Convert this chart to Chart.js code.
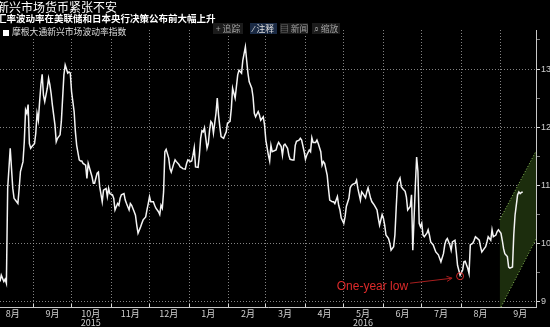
<!DOCTYPE html>
<html lang="zh-CN">
<head>
<meta charset="utf-8">
<title>新兴市场货币紧张不安</title>
<script src="https://cdn.jsdelivr.net/npm/chart.js@4.4.1/dist/chart.umd.min.js"></script>
<style>
  html, body { margin: 0; padding: 0; background: #000; }
  #wrap { position: relative; width: 550px; height: 327px; overflow: hidden; background: #000;
          font-family: "Noto Sans CJK SC", sans-serif; }
  #wrap canvas { position: absolute; left: 0; top: 0; }
  .title    { position: absolute; left: -3px; top: 0; font-size: 12px; line-height: 14px; color: #fff; white-space: nowrap; }
  .subtitle { position: absolute; left: -3px; top: 13px; font-size: 9.5px; line-height: 11px; font-weight: bold; color: #fff; white-space: nowrap; }
  .legend   { position: absolute; left: 0; top: 25px; height: 14px; padding: 0 4px 0 3px; background: #000;
              color: #ddd; font-size: 8.8px; line-height: 14px; white-space: nowrap; }
  .legend i { display: inline-block; width: 6px; height: 6px; background: #fff; margin-right: 3px; vertical-align: -0.5px; }
  .btn      { position: absolute; top: 23px; height: 11px; line-height: 11px; font-size: 8.8px; color: #a0a0a0;
              background: #1b1b1b; text-align: center; white-space: nowrap; }
  .btn.on   { background: #1a2a44; color: #dcdcdc; }
</style>
</head>
<body>
<div id="wrap">
  <canvas id="volChart" width="550" height="327"></canvas>
  <div class="title">新兴市场货币紧张不安</div>
  <div class="subtitle">汇率波动率在美联储和日本央行决策公布前大幅上升</div>
  <div class="legend"><i></i>摩根大通新兴市场波动率指数</div>
  <div class="btn" style="left:213px;width:30px">+ 追踪</div>
  <div class="btn on" style="left:250px;width:27px">⁄ 注释</div>
  <div class="btn" style="left:280px;width:28px">▤ 新闻</div>
  <div class="btn" style="left:312px;width:28px">⌕ 缩放</div>
</div>
<script>
// ── Data ──────────────────────────────────────────────────────
// days counted from START; index values
const START = Date.UTC(2015, 7, 6);

const days = [
  0,1,3,4,5,6,8,10,11,12,14,15,16,18,19,20,21,22,23,24,25,
  27,28,29,30,31,32,33,34,35,37,38,39,40,41,43,44,45,47,48,49,50,51,53,54,55,56,
  58,59,60,62,63,64,65,67,68,69,72,73,74,76,77,78,80,81,83,84,85,86,88,89,90,
  92,93,94,95,97,98,99,101,102,103,105,106,107,108,110,111,112,114,115,116,117,118,120,121,122,124,125,126,127,
  128,129,130,132,133,134,136,137,138,140,141,142,143,145,146,147,149,150,151,152,153,155,156,157,158,159,160,
  162,163,164,165,166,167,169,170,171,172,173,175,176,177,178,180,181,182,184,185,186,187,189,190,192,193,194,195,
  197,198,199,200,202,203,204,206,207,208,210,211,212,213,216,217,218,220,221,222,223,225,226,227,229,230,231,232,
  234,235,236,238,239,240,242,243,244,245,247,248,249,251,252,253,254,256,257,258,260,261,262,264,265,266,267,
  269,270,271,273,274,275,276,278,279,280,282,283,284,286,287,288,290,291,292,293,295,296,297,299,300,301,302,304,305,306,
  308,309,310,311,313,314,315,317,318,319,321,322,323,325,326,327,328,329,330,331,332,334,335,336,337,339,340,341,343,344,345,
  347,348,349,350,352,353,354,356,357,358,360,362,363,364,366,367,368,370,371,372,373,375,376,377,
  379,380,381,382,384,385,386,388,389,390,392,393,394,395,397,398,399,401,402,403,405,406,407,408,409
];

const vol = [
  9.35,9.46,9.35,9.39,9.32,10.95,11.64,10.95,10.78,10.75,10.69,10.95,11.24,11.41,11.75,12.30,12.24,12.39,11.72,11.64,11.67,
  11.72,11.9,12.24,12.12,12.44,12.73,12.91,12.55,12.44,12.67,12.84,12.73,12.58,12.38,12.04,11.75,11.81,11.87,12.1,12.5,12.9,13.07,12.93,12.95,12.93,12.61,
  12.27,11.92,11.69,11.44,11.42,11.42,11.38,11.35,11.12,11.38,11.15,11.04,11.04,11.21,11.23,10.98,10.72,10.92,10.95,10.81,10.95,10.86,10.84,10.78,10.58,
  10.69,10.66,10.78,10.84,10.86,10.75,10.69,10.58,10.69,10.66,10.55,10.49,10.32,10.18,10.29,10.35,10.41,10.46,10.58,10.69,10.81,10.72,10.72,10.66,10.61,10.55,10.5,10.66,10.61,
  10.89,11.58,11.62,11.47,11.29,11.23,11.38,11.44,11.41,11.36,11.32,11.31,11.29,11.28,11.38,11.44,11.41,11.42,11.52,11.65,11.32,11.31,11.52,11.81,11.94,11.92,11.99,
  11.64,11.72,11.95,12.1,12.07,11.9,12.24,12.5,12.21,12.01,11.84,11.81,11.87,11.92,12.07,12.1,12.32,12.67,12.5,12.7,12.9,12.98,12.93,13.15,13.38,13.15,12.93,12.78,
  12.67,12.52,12.24,12.18,12.27,12.21,12.12,12.18,12.04,11.78,11.52,11.42,11.69,11.58,11.61,11.69,11.74,11.67,11.52,11.69,11.71,11.64,11.52,11.45,11.44,11.44,11.69,11.76,
  11.78,11.81,11.78,11.58,11.45,11.52,11.61,11.58,11.82,11.74,11.74,11.78,11.72,11.58,11.35,11.41,11.38,11.18,10.95,10.75,10.72,10.72,10.69,10.81,10.66,10.58,10.44,
  10.35,10.46,10.64,10.78,10.96,11.0,11.02,11.04,11.09,10.95,10.75,10.89,10.86,10.79,10.89,10.96,10.78,10.72,10.69,10.66,10.58,10.44,10.32,10.5,10.44,10.32,10.15,10.09,10.01,9.89,
  9.95,10.15,10.61,11.04,11.13,10.98,10.95,10.9,10.8,10.58,10.64,10.84,9.89,11.0,11.49,11.24,10.35,10.29,10.35,10.15,10.12,10.18,10.24,10.15,10.03,9.98,9.92,9.86,9.81,9.75,9.69,
  9.83,9.98,10.06,10.09,9.98,9.89,10.03,10.06,9.86,9.63,9.46,9.55,9.69,9.70,9.58,9.49,9.98,10.01,10.06,10.12,10.1,10.06,9.95,9.86,
  9.92,9.95,10.03,10.12,10.06,10.24,10.12,10.15,10.21,10.24,10.18,10.06,9.92,9.83,9.78,9.6,9.58,9.6,10.15,10.49,10.84,10.89,10.86,10.88,10.89
];

// green channel drawn over the last weeks
const channelDays  = [391, 419.4];
const channelUpper = [10.41, 11.59];
const channelLower = [8.87, 10.08];

// axis labels
const monthLabels = ['8月','9月',['10月','2015'],'11月','12月','1月','2月','3月','4月',['5月','2016'],'6月','7月','8月','9月'];
const yTicks = [9, 10, 11, 12, 13];
const X_MAX = 419.4, Y_MIN = 8.914, Y_MAX = 13.67;

// ── Ticks built from calendar ─────────────────────────────────
const dayOf = (y, m, d) => (Date.UTC(y, m, d) - START) / 86400000;
const monthStarts = [], labelAt = new Map();
monthLabels.forEach((lab, i) => {
  const s = dayOf(2015, 7 + i, 1);
  if (s >= 0 && s <= X_MAX) monthStarts.push(s);
  labelAt.set(dayOf(2015, 7 + i, 16), lab);
});
const nextStart = dayOf(2015, 7 + monthLabels.length, 1);
if (nextStart <= X_MAX) monthStarts.push(nextStart);
const xTickVals = [...monthStarts, ...labelAt.keys()].sort((a, b) => a - b);
const isStart = v => monthStarts.includes(v);

const yTickVals = [];
yTicks.forEach(v => { yTickVals.push(v); if (v + 0.5 < Y_MAX) yTickVals.push(v + 0.5); });

// one-year low: lowest point over the last year
let lowIdx = 0;
days.forEach((d, i) => { if (d >= 300 && (days[lowIdx] < 300 || vol[i] < vol[lowIdx])) lowIdx = i; });

const GRID = 'rgba(175,175,175,0.75)';

// ── Annotation: One-year low ──────────────────────────────────
const lowNote = {
  id: 'lowNote',
  afterDatasetsDraw(chart) {
    const { ctx, scales: { x, y } } = chart;
    const px = x.getPixelForValue(days[lowIdx]);
    const py = y.getPixelForValue(vol[lowIdx]);
    ctx.save();
    ctx.lineWidth = 1;
    ctx.strokeStyle = '#d42626';
    ctx.beginPath();
    ctx.arc(px, py + 1, 3.5, 0, Math.PI * 2);
    ctx.stroke();

    const x0 = px - 50, y0 = py + 8, x1 = px - 8, y1 = py + 3;
    ctx.strokeStyle = '#a81e1e';
    ctx.beginPath(); ctx.moveTo(x0, y0); ctx.lineTo(x1, y1); ctx.stroke();
    const a = Math.atan2(y1 - y0, x1 - x0);
    ctx.beginPath();
    ctx.moveTo(x1 - 6 * Math.cos(a - 0.45), y1 - 6 * Math.sin(a - 0.45));
    ctx.lineTo(x1, y1);
    ctx.lineTo(x1 - 6 * Math.cos(a + 0.45), y1 - 6 * Math.sin(a + 0.45));
    ctx.stroke();

    ctx.fillStyle = '#dc2a2a';
    ctx.font = '12px "Liberation Sans"';
    ctx.textAlign = 'right';
    ctx.textBaseline = 'middle';
    ctx.fillText('One-year low', x0 - 2, py + 11);
    ctx.restore();
  }
};

// ── Chart ─────────────────────────────────────────────────────
new Chart(document.getElementById('volChart'), {
  type: 'line',
  data: {
    datasets: [
      {
        data: days.map((d, i) => ({ x: d, y: vol[i] })),
        borderColor: '#f4f4f4',
        borderWidth: 1.5,
        pointRadius: 0,
        tension: 0,
        fill: false
      },
      {
        data: channelDays.map((d, i) => ({ x: d, y: channelUpper[i] })),
        borderColor: '#8cc05a',
        borderWidth: 1,
        borderDash: [1, 2],
        pointRadius: 0,
        fill: false
      },
      {
        data: channelDays.map((d, i) => ({ x: d, y: channelLower[i] })),
        borderColor: '#8cc05a',
        borderWidth: 1,
        borderDash: [1, 2],
        pointRadius: 0,
        fill: '-1',
        backgroundColor: '#1c2d0d'
      }
    ]
  },
  options: {
    responsive: false,
    animation: false,
    layout: { padding: { top: 30, left: 0, right: 0, bottom: 0 } },
    plugins: { legend: { display: false }, tooltip: { enabled: false } },
    scales: {
      x: {
        type: 'linear',
        min: 0,
        max: X_MAX,
        afterBuildTicks: s => { s.ticks = xTickVals.map(v => ({ value: v })); },
        afterFit: s => { s.height = 20; },
        grid: {
          color: c => (c.tick && isStart(c.tick.value)) ? GRID : 'transparent',
          tickColor: c => (c.tick && isStart(c.tick.value)) ? '#d8d8d8' : 'transparent',
          tickLength: -3,
          lineWidth: 1
        },
        border: { display: true, color: '#c8c8c8', width: 1, dash: [1, 2] },
        ticks: {
          autoSkip: false,
          maxRotation: 0,
          padding: 5,
          color: '#d0d0d0',
          font: { family: '"Noto Sans CJK SC"', size: 9, lineHeight: 1.0 },
          callback: v => labelAt.has(v) ? labelAt.get(v) : ''
        }
      },
      y: {
        position: 'right',
        min: Y_MIN,
        max: Y_MAX,
        afterBuildTicks: s => { s.ticks = yTickVals.map(v => ({ value: v })); },
        afterFit: s => { s.width = 14; },
        grid: {
          color: c => (c.tick && c.tick.value % 1 === 0) ? GRID : 'transparent',
          tickColor: c => (c.tick && c.tick.value % 1 === 0) ? '#d8d8d8' : '#808080',
          tickLength: 4
        },
        border: { display: true, color: '#c8c8c8', width: 1, dash: [1, 2] },
        ticks: {
          padding: 1,
          color: '#d0d0d0',
          font: { family: '"Liberation Sans"', size: 9 },
          callback: v => v % 1 === 0 ? String(v) : ''
        }
      }
    }
  },
  plugins: [lowNote]
});
</script>
</body>
</html>
